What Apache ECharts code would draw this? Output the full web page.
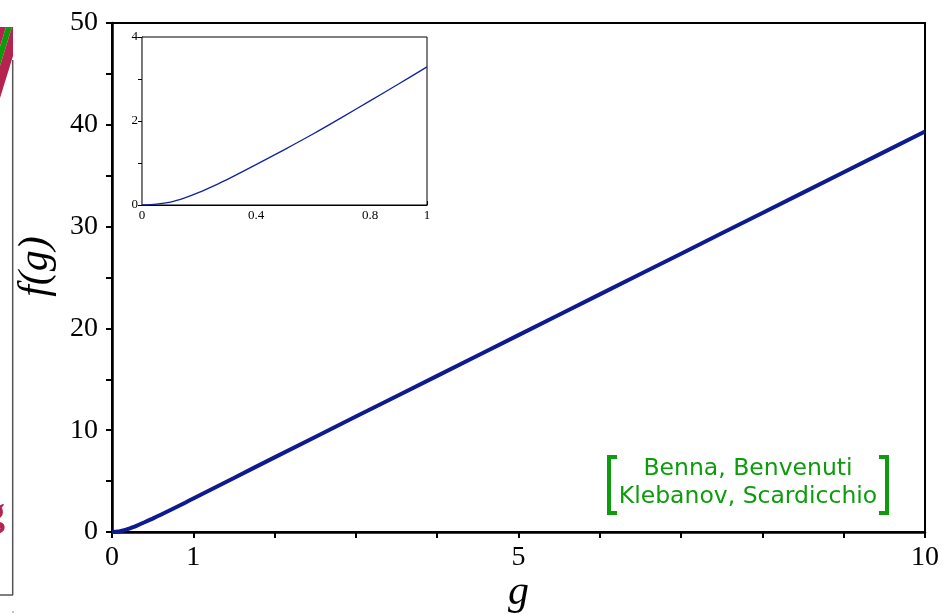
<!DOCTYPE html>
<html>
<head>
<meta charset="utf-8">
<script src="https://cdn.jsdelivr.net/npm/echarts@6/dist/echarts.min.js"></script>
<style>
html,body{margin:0;padding:0;background:#fff;}
#chart{width:947px;height:614px;}
</style>
</head>
<body>
<div id="chart"></div>
<script>
// Main curve f(g)
const mainG = [0, 0.05, 0.1, 0.15, 0.2, 0.25, 0.3, 0.4, 0.5, 0.6, 0.7, 0.8, 0.9, 1.0, 1.5, 2, 3, 4, 5, 6, 7, 8, 9, 10];
const mainF = [0, 0.02, 0.07, 0.17, 0.30, 0.45, 0.61, 0.96, 1.32, 1.69, 2.08, 2.48, 2.88, 3.29, 5.31, 7.33, 11.34, 15.34, 19.34, 23.34, 27.34, 31.34, 35.34, 39.34];
// Inset curve (0 <= g <= 1)
const insetG = [0, 0.05, 0.1, 0.15, 0.2, 0.25, 0.3, 0.4, 0.5, 0.6, 0.7, 0.8, 0.9, 1.0];
const insetF = [0, 0.02, 0.07, 0.17, 0.30, 0.45, 0.61, 0.96, 1.32, 1.69, 2.08, 2.48, 2.88, 3.29];
// Tick labels
const mainXLabels = [0, 1, 5, 10];
const mainYLabels = [0, 10, 20, 30, 40, 50];
const insetXLabels = [0, 0.4, 0.8, 1];
const insetYLabels = [0, 2, 4];
const creditLines = ['Benna, Benvenuti', 'Klebanov, Scardicchio'];

const near = (arr, v) => arr.some(a => Math.abs(a - v) < 1e-6);
const serif = 'Liberation Serif';

const chart = echarts.init(document.getElementById('chart'), null, {renderer: 'canvas'});
const option = {
  backgroundColor: '#fff',
  animation: false,
  grid: [
    {left: 112, right: 22, top: 23, bottom: 82, containLabel: false, outerBoundsMode: 'none',
      show: true, borderColor: '#000', borderWidth: 2, backgroundColor: 'transparent', z: 1},
    {left: 142, top: 37, width: 285, height: 168, containLabel: false, outerBoundsMode: 'none',
      show: true, borderColor: '#000', borderWidth: 1, backgroundColor: '#fff', z: 5}
  ],
  xAxis: [
    {
      type: 'value', gridIndex: 0, min: 0, max: 10, interval: 1,
      name: 'g', nameLocation: 'middle', nameGap: 40, nameMoveOverlap: false,
      nameTextStyle: {fontFamily: serif, fontStyle: 'italic', fontSize: 42, color: '#000'},
      axisLine: {show: true, lineStyle: {color: '#000', width: 2.5}},
      axisTick: {show: true, inside: false, length: 6, lineStyle: {color: '#000', width: 2}},
      splitLine: {show: false},
      axisLabel: {
        margin: 12, color: '#000', fontFamily: serif, fontSize: 28, hideOverlap: false,
        formatter: v => near(mainXLabels, v) ? String(v) : ''
      }
    },
    {
      type: 'value', gridIndex: 1, min: 0, max: 1, interval: 0.2,
      axisLine: {show: true, lineStyle: {color: '#000', width: 1.2}},
      axisTick: {show: true, inside: true, length: 4, lineStyle: {color: '#000', width: 1}},
      splitLine: {show: false},
      axisLabel: {
        margin: 4, color: '#000', fontFamily: serif, fontSize: 13,
        formatter: v => near(insetXLabels, v) ? String(v) : ''
      }
    }
  ],
  yAxis: [
    {
      type: 'value', gridIndex: 0, min: 0, max: 50, interval: 5,
      name: 'f(g)', nameLocation: 'middle', nameGap: 55, nameRotate: 90,
      nameTextStyle: {fontFamily: serif, fontStyle: 'italic', fontSize: 42, color: '#000', padding: [0, 0, 0, 22]},
      axisLine: {show: true, lineStyle: {color: '#000', width: 2.5}},
      axisTick: {show: true, inside: false, length: 6, lineStyle: {color: '#000', width: 2}},
      splitLine: {show: false},
      axisLabel: {
        margin: 14, color: '#000', fontFamily: serif, fontSize: 28,
        formatter: v => near(mainYLabels, v) ? String(v) : ''
      }
    },
    {
      type: 'value', gridIndex: 1, min: 0, max: 4, interval: 1,
      axisLine: {show: true, lineStyle: {color: '#000', width: 1.2}},
      axisTick: {show: true, inside: false, length: 4, lineStyle: {color: '#000', width: 1}},
      splitLine: {show: false},
      axisLabel: {
        margin: 4, color: '#000', fontFamily: serif, fontSize: 13,
        formatter: v => near(insetYLabels, v) ? String(v) : ''
      }
    }
  ],
  series: [
    {
      type: 'line', xAxisIndex: 0, yAxisIndex: 0, smooth: 0.3, symbol: 'none', z: 2,
      lineStyle: {color: '#0d1a90', width: 4},
      data: mainG.map((g, i) => [g, mainF[i]])
    },
    {
      type: 'line', xAxisIndex: 1, yAxisIndex: 1, smooth: 0.3, symbol: 'none', z: 6,
      lineStyle: {color: '#1022a0', width: 1.3},
      data: insetG.map((g, i) => [g, insetF[i]])
    }
  ],
  graphic: [
    // credit text
    {type: 'text', x: 748, y: 469, z: 10,
      style: {text: creditLines[0], fill: '#0c9c0c', font: '23.5px "DejaVu Sans"', textAlign: 'center', textVerticalAlign: 'middle'}},
    {type: 'text', x: 748, y: 497, z: 10,
      style: {text: creditLines[1], fill: '#0c9c0c', font: '23.5px "DejaVu Sans"', textAlign: 'center', textVerticalAlign: 'middle'}},
    {type: 'polyline', z: 10, shape: {points: [[617, 457], [609, 457], [609, 513], [617, 513]]},
      style: {stroke: '#0c9c0c', lineWidth: 4, fill: null}},
    {type: 'polyline', z: 10, shape: {points: [[879, 457], [887, 457], [887, 513], [879, 513]]},
      style: {stroke: '#0c9c0c', lineWidth: 4, fill: null}},
    // left strip remnants from neighbouring slide
    {type: 'polygon', z: 10, shape: {points: [[0, 27], [6, 27], [0, 46.4]]}, style: {fill: '#b5234f'}},
    {type: 'polygon', z: 10, shape: {points: [[6, 27], [12, 27], [0, 65.7], [0, 46.4]]}, style: {fill: '#0b9b0b'}},
    {type: 'polygon', z: 10, shape: {points: [[12, 27], [13, 27], [13, 56], [0, 98], [0, 65.7]]}, style: {fill: '#b5234f'}},
    {type: 'line', z: 10, shape: {x1: 12.7, y1: 60, x2: 12.7, y2: 595}, style: {stroke: '#555', lineWidth: 1.5}},
    {type: 'line', z: 10, shape: {x1: 0, y1: 595, x2: 13, y2: 595}, style: {stroke: '#555', lineWidth: 1.5}},
    {type: 'circle', z: 10, shape: {cx: 13, cy: 612, r: 0.8}, style: {fill: '#777'}},
    {type: 'text', z: 10, x: -15, y: 515,
      style: {text: 'g', fill: '#b5234f', font: 'bold 40px "Liberation Serif"', textVerticalAlign: 'middle'}}
  ]
};
chart.setOption(option);
</script>
</body>
</html>
